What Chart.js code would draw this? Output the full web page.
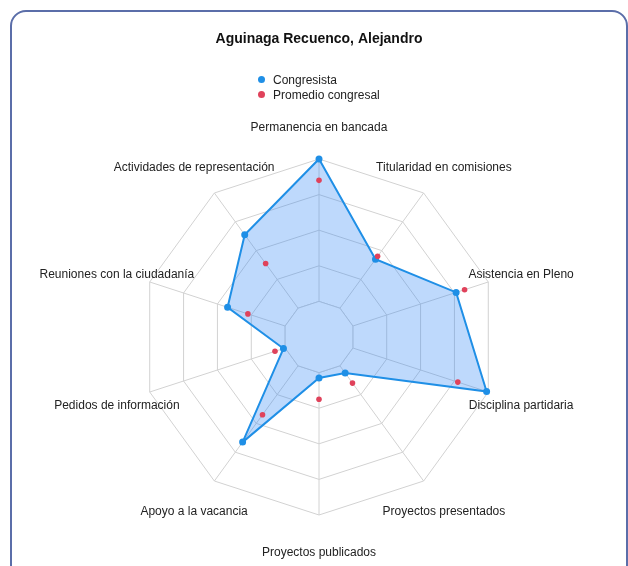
<!DOCTYPE html>
<html>
<head>
<meta charset="utf-8">
<script src="https://cdn.jsdelivr.net/npm/chart.js"></script>
<style>
    body { margin: 0; background: #fff; font-family: Arial, "Liberation Sans", sans-serif; }
    #card {
        position: absolute; left: 10px; top: 10px;
        width: 614px; height: 620px;
        border: 2px solid #5b6ea9; border-radius: 16px;
    }
    #wrap { position: absolute; left: 0; top: 0; width: 628px; height: 566px; }
    #legend {
        position: absolute; left: 258px; top: 73px;
        font-size: 12px; line-height: 15px; color: #222;
    }
    #legend .dot {
        display: inline-block; width: 7px; height: 7px; border-radius: 50%;
        margin-right: 8px; vertical-align: 1px;
    }
</style>
</head>
<body>
<div id="card"></div>
<div id="wrap"><canvas id="radarChart" width="628" height="566"></canvas></div>
<div id="legend"></div>
<script>
const categories = [
    "Permanencia en bancada", "Titularidad en comisiones", "Asistencia en Pleno",
    "Disciplina partidaria", "Proyectos presentados", "Proyectos publicados",
    "Apoyo a la vacancia", "Pedidos de información", "Reuniones con la ciudadanía",
    "Actividades de representación"
];
const congresista = [100, 54, 81, 99, 25, 23, 73, 21, 54, 71];
const promedio = [88, 56, 86, 82, 32, 35, 54, 26, 42, 51];
const tickValues = [20, 40, 60, 80, 100];

const gridColor = "#d2d2d2";
const textFont = "12px Arial, 'Liberation Sans', sans-serif";

// white centre ring (spokes start at first ring) + centred axis labels
const radarExtras = {
    id: "radarExtras",
    beforeDatasetsDraw(chart) {
        const s = chart.scales.r;
        const ctx = chart.ctx;
        const r = s.getDistanceFromCenterForValue(tickValues[0]);
        ctx.save();
        ctx.beginPath();
        categories.forEach((c, i) => {
            const p = s.getPointPosition(i, r);
            if (i === 0) ctx.moveTo(p.x, p.y); else ctx.lineTo(p.x, p.y);
        });
        ctx.closePath();
        ctx.fillStyle = "#fff";
        ctx.fill();
        ctx.strokeStyle = gridColor;
        ctx.lineWidth = 1;
        ctx.stroke();
        ctx.restore();
    },
    afterDraw(chart) {
        const s = chart.scales.r;
        const ctx = chart.ctx;
        ctx.save();
        ctx.font = textFont;
        ctx.fillStyle = "#222";
        ctx.textAlign = "center";
        ctx.textBaseline = "middle";
        categories.forEach((c, i) => {
            const p = s.getPointPosition(i, s.drawingArea + 34.5);
            ctx.fillText(c, p.x, p.y + 3);
        });
        ctx.restore();
    }
};

const ctx = document.getElementById("radarChart").getContext("2d");
const chart = new Chart(ctx, {
    type: "radar",
    data: {
        labels: categories,
        datasets: [{
            label: "Congresista",
            data: congresista,
            order: 2,
            borderColor: "#1f8fe6",
            backgroundColor: "rgba(40, 130, 245, 0.3)",
            pointBackgroundColor: "#1f8fe6",
            pointBorderColor: "#1f8fe6",
            pointRadius: 2.5,
            borderWidth: 2,
            fill: true
        }, {
            label: "Promedio congresal",
            data: promedio,
            order: 1,
            borderColor: "rgba(0,0,0,0)",
            backgroundColor: "rgba(0,0,0,0)",
            pointBackgroundColor: "#e0425b",
            pointBorderColor: "#e0425b",
            pointRadius: 2.8,
            borderWidth: 0,
            showLine: false,
            fill: false
        }]
    },
    options: {
        responsive: false,
        animation: false,
        layout: { padding: { left: 141, right: 131, top: 0, bottom: 50 } },
        scales: {
            r: {
                min: 0,
                max: 100,
                ticks: { stepSize: 20, display: false },
                pointLabels: { display: false },
                grid: { color: gridColor, lineWidth: 1 },
                angleLines: { color: gridColor, lineWidth: 1 }
            }
        },
        plugins: {
            legend: { display: false },
            tooltip: { enabled: false },
            title: {
                display: true,
                text: "Aguinaga Recuenco, Alejandro",
                color: "#111",
                font: { size: 14, weight: "bold", family: "Arial, 'Liberation Sans', sans-serif" },
                padding: { top: 31, bottom: 112 }
            }
        }
    },
    plugins: [radarExtras]
});

// legend built from the datasets
document.getElementById("legend").innerHTML = chart.data.datasets.map(d =>
    '<div><span class="dot" style="background:' + d.pointBackgroundColor + '"></span>' + d.label + '</div>'
).join("");
</script>
</body>
</html>
